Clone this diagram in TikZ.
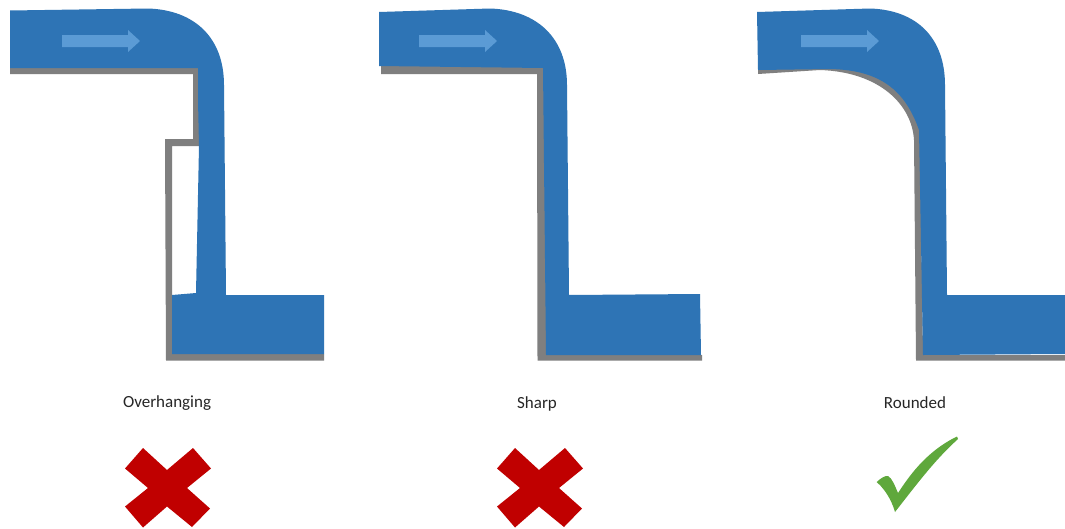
\documentclass[tikz,border=0pt]{standalone}
\usepackage{fontspec}
\setmainfont{Carlito}
\definecolor{pipeblue}{HTML}{2E74B5}
\definecolor{arrowblue}{HTML}{5B9BD5}
\definecolor{wallgray}{HTML}{7F7F7F}
\definecolor{crossred}{HTML}{C00000}
\definecolor{tickgreen}{HTML}{5FA83C}
\tikzset{
  wall/.style={fill=wallgray,draw=none},
  pipe/.style={fill=pipeblue,draw=none},
  flowarrow/.style={fill=arrowblue,draw=none},
  caption/.style={font=\fontsize{17}{20}\selectfont,text=black!85,inner sep=0pt,anchor=center},
  crossmark/.style={fill=crossred,draw=none},
  tickmark/.style={fill=tickgreen,draw=none}
}
\newcommand{\flowarr}[1]{\fill[flowarrow,shift={(#1,0)}] (0,35)--(66,35)--(66,30)--(78,41)--(66,52)--(66,47)--(0,47)--cycle;}
\newcommand{\crossmk}[1]{\fill[crossmark,shift={(#1,0)}] (125,468.5)--(143,448)--(167,470)--(193,448)--(211,468.5)--(187,488)--(210,508.5)--(192,527)--(167,506.5)--(143,527.5)--(125,506.5)--(148,488)--cycle;}
\begin{document}
\begin{tikzpicture}[x=1pt,y=-1pt]
\useasboundingbox (0,0) rectangle (1065,528);
\fill[white] (0,0) rectangle (1065,528);
% Overhanging
\fill[wall] (10,66)--(199,66)--(199,146)--(172,146)--(172,354)--(324,354)--(324,360.5)--(166,360.5)--(165,139)--(193,139)--(193,74)--(10,74)--cycle;
\fill[pipe] (10,10.5)--(148,8.5) .. controls (195,10) and (224,38) .. (224,85)--(226,295)--(324,295)--(324,354)--(172,354)--(172,295)--(196,293)--(199,146)--(198,100)--(198,68)--(10,68)--cycle;
\flowarr{62}
% Sharp
\fill[wall] (381,66)--(546,66)--(547,355)--(702,355)--(702,360.5)--(537.5,360.5)--(537,74)--(381,74)--cycle;
\fill[pipe] (379,12)--(490,8.5) .. controls (537,10) and (567,38) .. (567,85)--(569,295)--(700,294)--(701,355)--(546,355)--(543,68)--(379,66)--cycle;
\flowarr{419}
% Rounded
\fill[wall] (758,66)--(830,66) .. controls (885,68) and (922,100) .. (920,135)--(923,355)--(1065,355)--(1065,360.5)--(916,360.5)--(914,140) .. controls (912,105) and (880,72) .. (820,70)--(758,74)--cycle;
\fill[pipe] (757,12)--(870,8.5) .. controls (917,10) and (945,38) .. (945,85)--(947,295)--(1065,295)--(1065,354)--(923,355)--(919,130) .. controls (905,90) and (880,70) .. (830,69)--(758,70)--cycle;
\flowarr{801}
% Labels
\node[caption] (overhanging) at (167,403.5) {Overhanging};
\node[caption] (sharp) at (537,403.5) {Sharp};
\node[caption] (rounded) at (915,403) {Rounded};
% Marks
\crossmk{0}
\crossmk{372}
\fill[tickmark] (876.7,482) .. controls (881,478) and (885,475.5) .. (888,476) .. controls (892,478) and (895,486) .. (898,493) .. controls (908,478) and (925,452) .. (957,436.5)--(958,439) .. controls (935,460) and (920,480) .. (895,512) .. controls (893,505) and (888,492) .. (876.7,482)--cycle;
\end{tikzpicture}
\end{document}
